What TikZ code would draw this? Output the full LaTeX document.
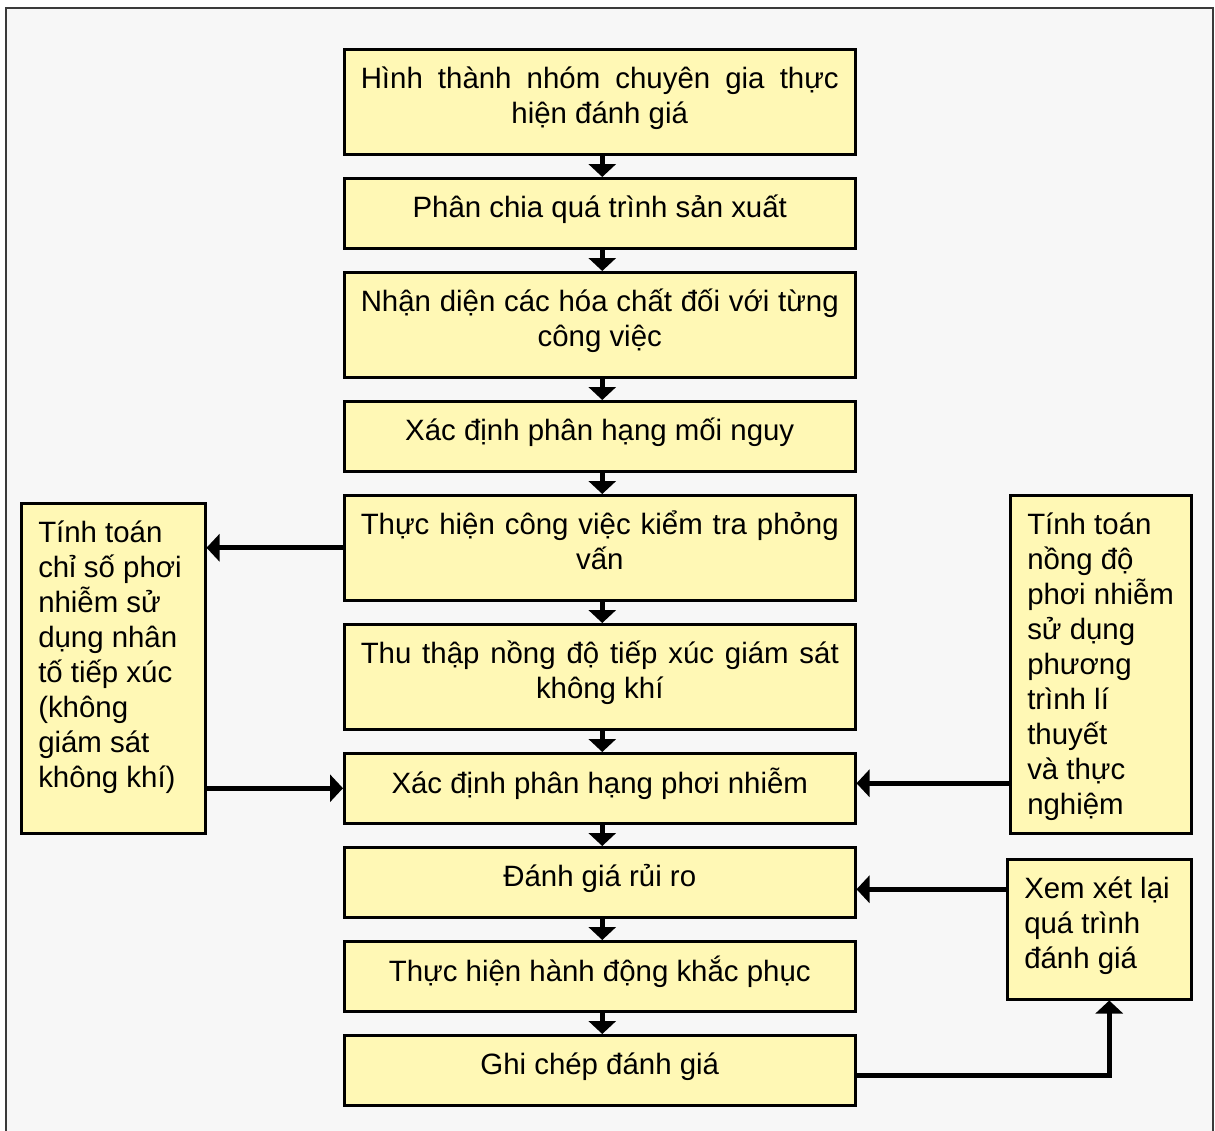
\documentclass[tikz,border=0pt]{standalone}
\usepackage{fontspec}
\setmainfont{Liberation Sans}
\usetikzlibrary{arrows.meta,calc}
\definecolor{boxfill}{HTML}{FFF8B5}
\definecolor{bgfill}{HTML}{F7F7F7}
\definecolor{framecol}{HTML}{3A3A3A}
\newcommand{\mainbox}[2]{\parbox[t][#1][t]{478pt}{\centering\strut #2}}
\newcommand{\sidebox}[3]{\parbox[t][#1][t]{#2}{\raggedright\strut #3}}
\begin{document}
\begin{tikzpicture}[x=1pt,y=-1pt,
  box/.style={draw=black,line width=2.5pt,fill=boxfill,inner xsep=16.5pt,inner ysep=14.5pt,anchor=north west,font=\fontsize{29.4}{35}\selectfont},
  side/.style={box,inner xsep=17pt},
  link/.style={line width=5pt,-{Triangle[length=13pt,width=27pt]}}]
\useasboundingbox (0,0) rectangle (1215,1130);
\draw[framecol,line width=2pt,fill=bgfill] (6,8) rectangle (1213,1145);

\node[box] (b1) at (343,48) {\mainbox{76pt}{\makebox[478pt][s]{Hình thành nhóm chuyên gia thực}\\hiện đánh giá}};
\node[box] (b2) at (343,177) {\mainbox{41pt}{Phân chia quá trình sản xuất}};
\node[box] (b3) at (343,271) {\mainbox{76pt}{\makebox[478pt][s]{Nhận diện các hóa chất đối với từng}\\công việc}};
\node[box] (b4) at (343,400) {\mainbox{41pt}{Xác định phân hạng mối nguy}};
\node[box] (b5) at (343,494) {\mainbox{76pt}{\makebox[478pt][s]{Thực hiện công việc kiểm tra phỏng}\\vấn}};
\node[box] (b6) at (343,623) {\mainbox{76pt}{\makebox[478pt][s]{Thu thập nồng độ tiếp xúc giám sát}\\không khí}};
\node[box] (b7) at (343,752) {\mainbox{41pt}{Xác định phân hạng phơi nhiễm}};
\node[box] (b8) at (343,846) {\mainbox{41pt}{Đánh giá rủi ro}};
\node[box] (b9) at (343,940) {\mainbox{41pt}{Thực hiện hành động khắc phục}};
\node[box] (b10) at (343,1034) {\mainbox{41pt}{Ghi chép đánh giá}};

\node[side] (lb) at (20,502) {\sidebox{301pt}{150pt}{Tính toán\\chỉ số phơi\\nhiễm sử\\dụng nhân\\tố tiếp xúc\\(không\\giám sát\\không khí)}};
\node[side] (rb1) at (1009,494) {\sidebox{309pt}{147pt}{Tính toán\\nồng độ\\phơi nhiễm\\sử dụng\\phương\\trình lí\\thuyết\\và thực\\nghiệm}};
\node[side] (rb2) at (1006,858) {\sidebox{111pt}{150pt}{Xem xét lại\\quá trình\\đánh giá}};

\foreach \a/\b in {b1/b2,b2/b3,b3/b4,b4/b5,b5/b6,b6/b7,b7/b8,b8/b9,b9/b10}
  \draw[link] ([xshift=2.5pt]\a.south) -- ([xshift=2.5pt]\b.north);

\draw[link] (b5.west) -- (lb.east |- b5.west);
\draw[link] (lb.east |- b7.west) -- (b7.west);
\draw[link] ([yshift=5pt]rb1.west |- b7.east) -- ([yshift=5pt]b7.east);
\draw[link] ([yshift=-7pt]rb2.west |- b8.east) -- ([yshift=-7pt]b8.east);
\draw[link] ([yshift=-5.5pt]b10.east) -| ([xshift=10pt]rb2.south);
\end{tikzpicture}
\end{document}
